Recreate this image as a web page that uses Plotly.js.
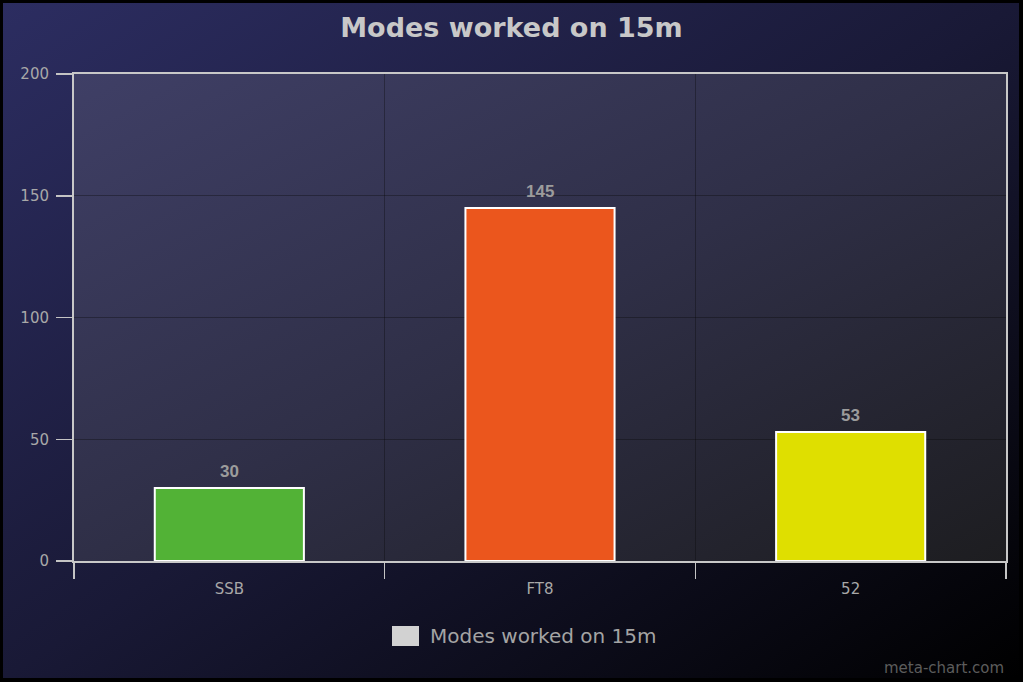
<!DOCTYPE html>
<html>
<head>
<meta charset="utf-8">
<script src="https://cdn.plot.ly/plotly-3.0.1.min.js"></script>
<style>
  html, body { margin: 0; padding: 0; background: #000; width: 1023px; height: 682px; overflow: hidden; }
  #outer { position: absolute; left: 3px; top: 3px; width: 1016px; height: 675px;
           background: linear-gradient(to bottom right, #2c2d61 0%, #191936 50%, #000000 100%); }
  #plotbg { position: absolute; left: 74px; top: 74px; width: 932px; height: 487px;
            background: linear-gradient(to bottom right, #3f3f66 0%, #2f2f47 50%, #1d1d20 100%); }
  #chart { position: absolute; left: 0; top: 0; width: 1023px; height: 682px; }
</style>
</head>
<body>
<div id="outer"></div>
<div id="plotbg"></div>
<div id="chart"></div>
<script>
const categories = ['SSB', 'FT8', '52'];
const values = [30, 145, 53];
const barColors = ['#52b236', '#eb561d', '#dfdf00'];
const seriesName = 'Modes worked on 15m';
const chartTitle = 'Modes worked on 15m';
const yTicks = [0, 50, 100, 150, 200];
const watermark = 'meta-chart.com';

const trace = {
  type: 'bar',
  x: categories,
  y: values,
  name: seriesName,
  width: 0.48,
  marker: { color: barColors, line: { color: '#ffffff', width: 2 } },
  hoverinfo: 'none',
  showlegend: false
};

const valueLabels = categories.map((c, i) => ({
  x: i, y: values[i], xref: 'x', yref: 'y',
  text: '<b>' + values[i] + '</b>',
  showarrow: false, yanchor: 'bottom', yshift: 5,
  font: { family: 'Liberation Sans, Arial, sans-serif', size: 17, color: '#9c9c9c' }
}));

const annotations = valueLabels.concat([
  { xref: 'paper', yref: 'paper', x: 0.3798, y: -0.154, xanchor: 'left', yanchor: 'middle',
    text: seriesName, showarrow: false,
    font: { family: 'DejaVu Sans, sans-serif', size: 20, color: '#a4a4a4' } },
  { xref: 'paper', yref: 'paper', x: 1.0, y: -0.2197, xanchor: 'right', yanchor: 'middle',
    text: watermark, showarrow: false,
    font: { family: 'DejaVu Sans, sans-serif', size: 15, color: '#5c5c5c' } }
]);

const axisFont = { family: 'DejaVu Sans, sans-serif', size: 15, color: '#a8a8a8' };

const layout = {
  width: 1023, height: 682,
  margin: { l: 74, r: 17, t: 74, b: 121, pad: 0 },
  paper_bgcolor: 'rgba(0,0,0,0)',
  plot_bgcolor: 'rgba(0,0,0,0)',
  title: {
    text: '<b>' + chartTitle + '</b>',
    font: { family: 'DejaVu Sans, sans-serif', size: 27, color: '#c8c8c8' },
    xref: 'container', x: 0.5, xanchor: 'center',
    yref: 'container', y: 1 - 28 / 682, yanchor: 'middle'
  },
  barmode: 'overlay',
  showlegend: false,
  xaxis: {
    type: 'category', range: [-0.5, 2.5], fixedrange: true,
    tickson: 'boundaries', ticks: 'outside', ticklen: 16, tickcolor: '#c4c4c4', tickwidth: 1.5,
    ticklabelstandoff: 13,
    showline: true, linecolor: '#c8c8c8', linewidth: 2, mirror: true,
    showgrid: true, gridcolor: 'rgba(10,10,10,0.35)', gridwidth: 1,
    tickfont: axisFont
  },
  yaxis: {
    range: [0, 200], fixedrange: true, tickvals: yTicks,
    ticks: 'outside', ticklen: 16, tickcolor: '#c4c4c4', tickwidth: 1.5,
    ticklabelstandoff: 4,
    showline: true, linecolor: '#c8c8c8', linewidth: 2, mirror: true,
    showgrid: true, gridcolor: 'rgba(10,10,10,0.35)', gridwidth: 1, zeroline: false,
    tickfont: axisFont
  },
  shapes: [
    { type: 'rect', xref: 'paper', yref: 'paper', x0: 0.3412, x1: 0.3702, y0: -0.1335, y1: -0.1745,
      fillcolor: '#d2d2d2', line: { width: 0 } }
  ],
  annotations: annotations
};

Plotly.newPlot('chart', [trace], layout, { displayModeBar: false, staticPlot: true });
</script>
</body>
</html>
